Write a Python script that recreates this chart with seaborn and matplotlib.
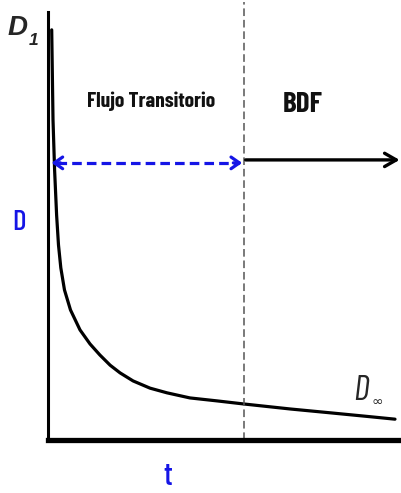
import matplotlib
matplotlib.use("Agg")
import matplotlib.pyplot as plt
import seaborn as sns
import pandas as pd
from matplotlib import font_manager

sns.set_theme(style="white")
avail = {f.name for f in font_manager.fontManager.ttflist}
cond = "DejaVu Sans"
for cand in ["Barlow Condensed", "Archivo Narrow", "Asap Condensed", "Liberation Sans Narrow"]:
    if cand in avail:
        cond = cand
        break
arial = "Liberation Sans" if "Liberation Sans" in avail else "DejaVu Sans"
plt.rcParams["font.family"] = [cond, "DejaVu Sans"]

# Data (arbitrary units: t across, D up)
t_vals = [1.05, 1.42, 1.87, 2.44, 2.97, 3.63, 4.67, 6.37, 9.07, 11.9, 14.7, 17.6,
          20.4, 24.1, 28.9, 33.7, 40.2, 47.9, 55.2, 68.6, 79.9, 89.8, 98.3]
d_vals = [96.5, 75.3, 63.5, 52.9, 45.9, 40.5, 35.3, 30.6, 25.9, 22.6, 20.0, 17.6,
          15.8, 13.9, 12.2, 11.1, 9.9, 9.2, 8.5, 7.3, 6.4, 5.6, 4.9]
t_boundary = 55.5
arrow_level_transient = 65.2
arrow_level_bdf = 65.9
region_labels = ["Flujo Transitorio", "BDF"]

df = pd.DataFrame({"t": t_vals, "D": d_vals})

W, H = 401, 493
fig = plt.figure(figsize=(W / 100, H / 100), dpi=100)
ax = fig.add_axes([48 / W, 53 / H, 353 / W, 428 / H])

sns.lineplot(data=df, x="t", y="D", ax=ax, color="black", linewidth=2.3, sort=False,
             solid_joinstyle="round", solid_capstyle="round")

ax.set_xlim(0, 100)
ax.set_ylim(0, 100.7)
ax.set_xticks([])
ax.set_yticks([])
ax.set_xlabel("")
ax.set_ylabel("")
for s in ["top", "right"]:
    ax.spines[s].set_visible(False)
ax.spines["left"].set_linewidth(2.2)
ax.spines["left"].set_color("black")
ax.spines["bottom"].set_linewidth(3.8)
ax.spines["bottom"].set_color("black")

# vertical dashed boundary
ax.plot([t_boundary, t_boundary], [0, 103], color="#555555", lw=1.1,
        dashes=(5, 2.5), clip_on=False)

# blue dashed double arrow
blue = "#1515e6"
ax.plot([2.6, t_boundary - 1.5], [arrow_level_transient] * 2, color=blue, lw=2.3,
        dashes=(3, 1.6), solid_capstyle="butt")
ax.annotate("", xy=(1.0, arrow_level_transient), xytext=(3.5, arrow_level_transient),
            arrowprops=dict(arrowstyle="->,head_length=0.5,head_width=0.35", color=blue, lw=2.3,
                            shrinkA=0, shrinkB=0))
ax.annotate("", xy=(t_boundary - 0.5, arrow_level_transient),
            xytext=(t_boundary - 3.0, arrow_level_transient),
            arrowprops=dict(arrowstyle="->,head_length=0.5,head_width=0.35", color=blue, lw=2.3,
                            shrinkA=0, shrinkB=0))

# black BDF arrow
ax.annotate("", xy=(99.6, arrow_level_bdf), xytext=(t_boundary + 0.5, arrow_level_bdf),
            arrowprops=dict(arrowstyle="->,head_length=0.7,head_width=0.4", color="black", lw=2.4,
                            shrinkA=0, shrinkB=0), annotation_clip=False)


def ftext(px, py, s, **kw):
    return fig.text(px / W, 1 - py / H, s, **kw)


# region labels
ftext(151, 107, region_labels[0], ha="center", va="baseline", fontsize=15.5,
      fontweight="bold", color="#111111")
ftext(303, 112, region_labels[1], ha="center", va="baseline", fontsize=21,
      fontweight="bold", color="#111111")

# axis labels
ftext(8, 35, "D", fontsize=20, fontstyle="italic", fontweight="bold", ha="left",
      va="baseline", family=[arial, "DejaVu Sans"])
ftext(29, 45, "1", fontsize=12.5, fontstyle="italic", fontweight="bold", ha="left",
      va="baseline", family=[arial, "DejaVu Sans"])
ftext(19, 230, "D", fontsize=21, color=blue, ha="center", va="baseline", fontweight="medium")
ftext(168, 485, "t", fontsize=23, color=blue, ha="center", va="baseline", fontweight="medium")
ftext(353, 400, "D", fontsize=25, fontstyle="italic", ha="left", va="baseline")
ftext(372, 406, "∞", fontsize=10, ha="left", va="baseline", family=["DejaVu Sans"])

fig.savefig("out.png", dpi=100)
